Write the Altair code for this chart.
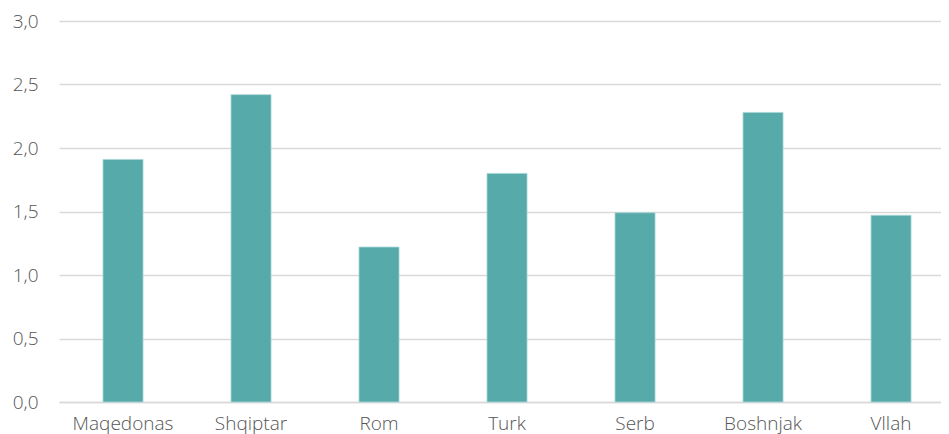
import altair as alt
import pandas as pd

categories = ["Maqedonas", "Shqiptar", "Rom", "Turk", "Serb", "Boshnjak", "Vllah"]
values = [1.91, 2.42, 1.22, 1.80, 1.49, 2.28, 1.47]

df = pd.DataFrame({"group": categories, "value": values})

FONT = "Open Sans"

chart = (
    alt.Chart(df)
    .mark_bar(color="#56AAAA", stroke="#A8D4D4", strokeWidth=0.8)
    .encode(
        x=alt.X(
            "group:N",
            sort=categories,
            title=None,
            scale=alt.Scale(paddingInner=0.6875, paddingOuter=0.289, align=0.595),
            axis=alt.Axis(
                labelAngle=0,
                labelFont=FONT,
                labelFontSize=19,
                labelFontWeight=300,
                labelColor="#555555",
                labelPadding=12,
                ticks=False,
                domain=True,
                domainColor="#D9D9D9",
                domainWidth=1.5,
                grid=False,
            ),
        ),
        y=alt.Y(
            "value:Q",
            title=None,
            scale=alt.Scale(domain=[0, 3], nice=False),
            axis=alt.Axis(
                values=[0, 0.5, 1.0, 1.5, 2.0, 2.5, 3.0],
                format=".1f",
                labelExpr="replace(format(datum.value, '.1f'), '.', ',')",
                labelFont=FONT,
                labelFontSize=19,
                labelFontWeight=300,
                labelColor="#555555",
                labelPadding=21,
                ticks=False,
                domain=False,
                grid=True,
                gridColor="#D9D9D9",
                gridWidth=1.5,
            ),
        ),
    )
    .properties(
        width=882,
        height=381,
        autosize=alt.AutoSizeParams(type="none"),
        padding={"left": 51, "top": 13, "right": 0, "bottom": 32},
    )
    .configure_view(stroke=None)
)

chart.save("out.html", embed_options={"renderer": "svg", "actions": False})
